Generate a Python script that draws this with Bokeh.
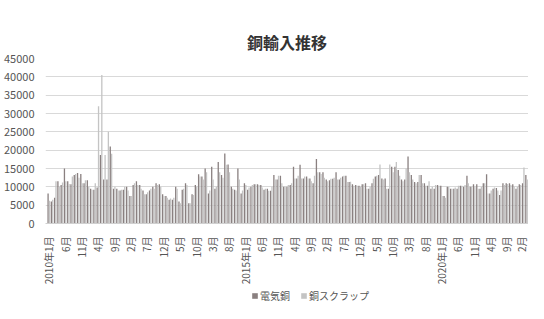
import math
from bokeh.plotting import figure
from bokeh.layouts import column
from bokeh.models import ColumnDataSource, FixedTicker, Legend, LegendItem
from bokeh.transform import dodge
from bokeh.embed import file_html
from bokeh.resources import INLINE

# monthly imports, 2010/1 .. 2022/3 (tonnes)
denki = [8200, 6000, 7000, 11500, 10500, 15000, 11500, 10700, 13200, 13800,
         13500, 11000, 11800, 9500, 9200, 9800, 18700, 12000, 12000, 21000,
         9500, 9500, 9000, 9200, 10000, 7500, 10500, 11500, 10500, 9000,
         8000, 9000, 10000, 11000, 10700, 8000, 7500, 6500, 6500, 10000,
         6000, 9200, 11000, 5500, 8000, 10500, 13400, 12800, 15000, 8200,
         15500, 9500, 16800, 13200, 19100, 16100, 10000, 9200, 15000, 8200,
         11000, 9200, 10000, 10700, 10700, 10500, 9200, 9500, 8900, 13200,
         12000, 13000, 10000, 10000, 10500, 15500, 12300, 16000, 12300, 12800,
         12300, 11000, 17600, 14000, 14000, 12000, 11800, 12200, 14000, 12000,
         12800, 13000, 11300, 10700, 10500, 10300, 10700, 11000, 9500, 11000,
         12800, 13200, 12300, 12300, 9500, 15500, 15500, 14600, 12000, 12000,
         18300, 13200, 11300, 11300, 13200, 11000, 10300, 9500, 9500, 10500,
         10300, 7500, 10000, 9500, 9500, 9500, 10300, 10000, 13000, 10000,
         10700, 10700, 9500, 11000, 13400, 8200, 9500, 9700, 7800, 11000,
         11000, 11000, 10700, 9500, 10700, 11000, 13200]
scrap = [6200, 6500, 11500, 10000, 11200, 11500, 10800, 12800, 13500, 12500,
         11000, 11800, 10000, 9200, 11000, 32000, 40500, 18700, 25000, 19000,
         10000, 9000, 9200, 10000, 9000, 7500, 11000, 10500, 9500, 8000,
         8500, 9500, 9500, 10500, 10000, 7500, 7000, 6800, 7000, 9500,
         5500, 9500, 10500, 5500, 7800, 10000, 12800, 12000, 14000, 9000,
         12000, 10000, 14000, 12500, 16000, 14000, 9500, 9000, 12000, 9000,
         10500, 9800, 10500, 10700, 10500, 9800, 9500, 8900, 10000, 12000,
         13000, 11000, 10000, 10500, 11000, 12300, 13000, 12300, 12800, 12300,
         11500, 13000, 14000, 13500, 12500, 11500, 12200, 12500, 12000, 12500,
         13000, 11300, 11400, 10300, 10300, 10000, 10700, 9500, 10000, 12200,
         13000, 16100, 12000, 9500, 16100, 14000, 16800, 13000, 11500, 15000,
         14000, 12000, 11000, 13200, 11000, 10300, 11500, 10000, 10500, 10300,
         7500, 7000, 10000, 9500, 9800, 10300, 10300, 10500, 11000, 10000,
         10000, 9500, 10000, 11000, 8200, 9000, 9800, 9000, 9000, 10500,
         10800, 10500, 10000, 10000, 10500, 15300, 12000]
months = list(range(len(denki)))

series_names = ["電気銅", "銅スクラップ"]
tick_positions = [0, 5, 10, 15, 20, 25, 30, 35, 40, 45, 50, 55, 60, 65, 70,
                  75, 80, 85, 90, 95, 100, 105, 110, 115, 120, 125, 130, 135, 140, 145]
tick_labels = ["2010年1月", "6月", "11月", "4月", "9月", "2月", "7月", "12月", "5月", "10月",
               "3月", "8月", "2015年1月", "6月", "11月", "4月", "9月", "2月", "7月", "12月",
               "5月", "10月", "3月", "8月", "2020年1月", "6月", "11月", "4月", "9月", "2月"]
y_ticks = [0, 5000, 10000, 15000, 20000, 25000, 30000, 35000, 40000, 45000]

FONT = "Noto Sans CJK JP"
DARK = "#8a8080"
LIGHT = "#c4c4c4"

src = ColumnDataSource(dict(month=months, denki=denki, scrap=scrap))

p = figure(width=528, height=287, output_backend="svg", toolbar_location=None,
           x_range=(-1.0, 146.6), y_range=(0, 45000),
           min_border_left=37, min_border_right=0, min_border_top=58, min_border_bottom=62)
p.title.text = "銅輸入推移"
p.title.align = "center"
p.title.text_font = FONT
p.title.text_font_size = "16px"
p.title.text_font_style = "bold"
p.title.text_color = "#333333"
p.title.standoff = 10
p.outline_line_color = None

p.vbar(x=dodge("month", -0.21), top="denki", width=0.4, source=src,
       fill_color=DARK, line_color=None)
p.vbar(x=dodge("month", 0.21), top="scrap", width=0.4, source=src,
       fill_color=LIGHT, line_color=None)

p.xgrid.grid_line_color = None
p.ygrid.grid_line_color = "#d9d9d9"
p.ygrid.ticker = FixedTicker(ticks=y_ticks)

p.yaxis.ticker = FixedTicker(ticks=y_ticks)
p.yaxis.axis_line_color = None
p.yaxis.major_tick_line_color = None
p.yaxis.minor_tick_line_color = None
p.yaxis.major_label_standoff = 5
p.yaxis.major_label_text_font = FONT
p.yaxis.major_label_text_font_size = "11px"
p.yaxis.major_label_text_color = "#555555"

p.xaxis.ticker = FixedTicker(ticks=tick_positions)
p.xaxis.major_label_overrides = {pos: lab for pos, lab in zip(tick_positions, tick_labels)}
p.xaxis.major_label_orientation = math.pi / 2
p.xaxis.axis_line_color = "#d0d0d0"
p.xaxis.major_tick_line_color = None
p.xaxis.minor_tick_line_color = None
p.xaxis.major_label_standoff = 7
p.xaxis.major_label_text_font = FONT
p.xaxis.major_label_text_font_size = "10px"
p.xaxis.major_label_text_color = "#555555"

# legend strip below the chart (hidden proxy renderers carry the swatches)
leg = figure(width=528, height=16, output_backend="svg", toolbar_location=None,
             x_range=(0, 1), y_range=(0, 1), min_border=0)
leg.axis.visible = False
leg.grid.visible = False
leg.outline_line_color = None
lr1 = leg.vbar(x=[months[0]], top=[denki[0]], width=0.4,
               fill_color=DARK, line_color=None, visible=False)
lr2 = leg.vbar(x=[months[0]], top=[scrap[0]], width=0.4,
               fill_color=LIGHT, line_color=None, visible=False)
legend = Legend(items=[LegendItem(label=series_names[0], renderers=[lr1]),
                       LegendItem(label=series_names[1], renderers=[lr2])],
                orientation="horizontal", location=(206, 0),
                glyph_width=7, glyph_height=7, label_standoff=2, spacing=10,
                padding=2, margin=0, border_line_color=None,
                background_fill_alpha=0, inactive_fill_alpha=0,
                label_text_font=FONT, label_text_font_size="10px",
                label_text_color="#555555", label_height=12)
leg.add_layout(legend)

open("out.html", "w").write(file_html(column(p, leg, spacing=0), INLINE))
